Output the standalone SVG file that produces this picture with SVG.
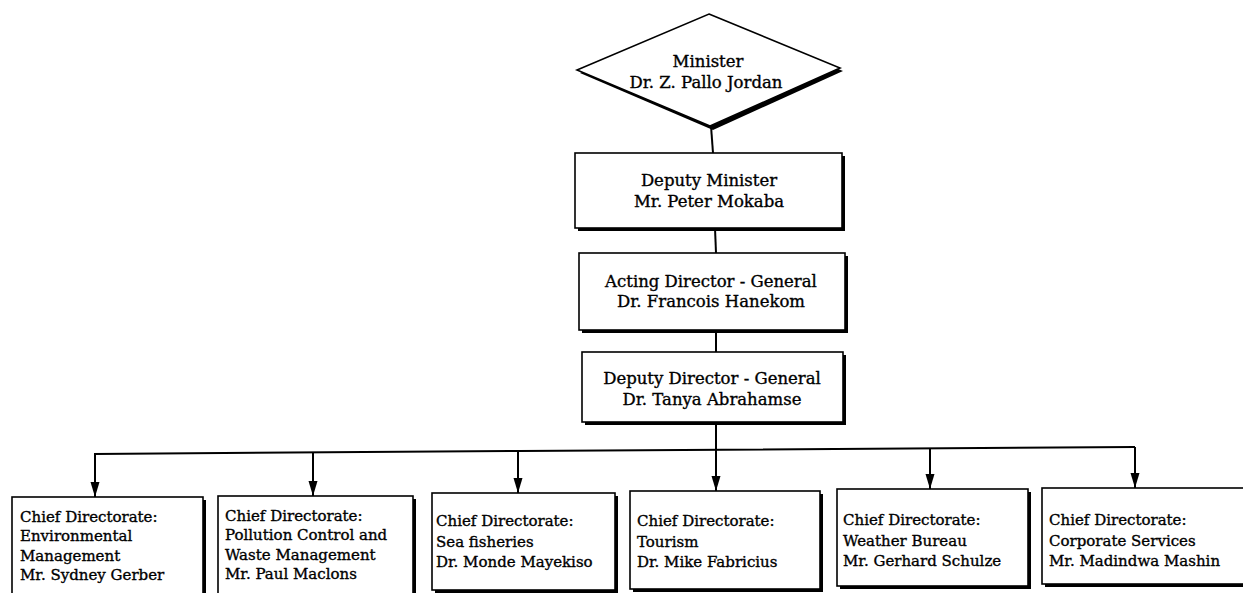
<svg xmlns="http://www.w3.org/2000/svg" width="1243" height="593" viewBox="0 0 1243 593">
<style>
  .box { fill: #fff; stroke: #000; stroke-width: 1.6; }
  .shadow { fill: #000; }
  .t { font-family: "DejaVu Serif", "Liberation Serif", serif; font-size: 15px; fill: #000; stroke: #000; stroke-width: 0.35; }
  .c { text-anchor: middle; font-size: 16.5px; }
  .conn { fill: none; stroke: #000; stroke-width: 2; }
</style>
<defs>
  <marker id="arr" markerUnits="userSpaceOnUse" markerWidth="16" markerHeight="10" refX="15" refY="5" orient="auto" viewBox="0 0 16 10">
    <path d="M0,0.5 L15,5 L0,9.5 Z" fill="#000"/>
  </marker>
</defs>
<rect width="1243" height="593" fill="#fff"/>

<g id="connectors">
  <line class="conn" x1="711" y1="126" x2="713" y2="153"/>
  <line class="conn" x1="715" y1="228" x2="716" y2="253"/>
  <line class="conn" x1="716" y1="330" x2="716" y2="352"/>
  <line class="conn" x1="716" y1="422" x2="716" y2="452"/>
  <polyline class="conn" points="94,454 520,451 1135,447"/>
  <line class="conn" x1="95" y1="454" x2="95" y2="497" marker-end="url(#arr)"/>
  <line class="conn" x1="313" y1="453" x2="313" y2="496" marker-end="url(#arr)"/>
  <line class="conn" x1="518" y1="451" x2="518" y2="493" marker-end="url(#arr)"/>
  <line class="conn" x1="716" y1="450" x2="716" y2="491" marker-end="url(#arr)"/>
  <line class="conn" x1="930" y1="448" x2="930" y2="489" marker-end="url(#arr)"/>
  <line class="conn" x1="1135" y1="447" x2="1135" y2="488" marker-end="url(#arr)"/>
</g>

<g id="minister">
  <polygon class="shadow" points="712,17 843,71 713,130 580,73"/>
  <polygon class="box" points="709,14 840,68 710,126 577,70"/>
  <text class="t c" x="708" y="67">Minister</text>
  <text class="t c" x="706" y="88">Dr. Z. Pallo Jordan</text>
</g>

<g id="deputy-minister">
  <rect class="shadow" x="578" y="156" width="267" height="75"/>
  <rect class="box" x="575" y="153" width="267" height="75"/>
  <text class="t c" x="709" y="186">Deputy Minister</text>
  <text class="t c" x="709" y="207">Mr. Peter Mokaba</text>
</g>

<g id="acting-dg">
  <rect class="shadow" x="582" y="256" width="266" height="77"/>
  <rect class="box" x="579" y="253" width="266" height="77"/>
  <text class="t c" x="711" y="287">Acting Director - General</text>
  <text class="t c" x="711" y="307">Dr. Francois Hanekom</text>
</g>

<g id="deputy-dg">
  <rect class="shadow" x="585" y="355" width="261" height="70"/>
  <rect class="box" x="582" y="352" width="261" height="70"/>
  <text class="t c" x="712" y="384">Deputy Director - General</text>
  <text class="t c" x="712" y="405">Dr. Tanya Abrahamse</text>
</g>

<g id="cd-environment">
  <rect class="shadow" x="15" y="500" width="191" height="100"/>
  <rect class="box" x="12" y="497" width="191" height="100"/>
  <text class="t" x="20" y="522">Chief Directorate:</text>
  <text class="t" x="20" y="541">Environmental</text>
  <text class="t" x="20" y="561">Management</text>
  <text class="t" x="20" y="580">Mr. Sydney Gerber</text>
</g>

<g id="cd-pollution">
  <rect class="shadow" x="221" y="499" width="195" height="100"/>
  <rect class="box" x="218" y="496" width="195" height="100"/>
  <text class="t" x="225" y="521">Chief Directorate:</text>
  <text class="t" x="225" y="540">Pollution Control and</text>
  <text class="t" x="225" y="560">Waste Management</text>
  <text class="t" x="225" y="579">Mr. Paul Maclons</text>
</g>

<g id="cd-sea">
  <rect class="shadow" x="435" y="496" width="183" height="97"/>
  <rect class="box" x="432" y="493" width="183" height="97"/>
  <text class="t" x="436" y="526">Chief Directorate:</text>
  <text class="t" x="436" y="547">Sea fisheries</text>
  <text class="t" x="436" y="567">Dr. Monde Mayekiso</text>
</g>

<g id="cd-tourism">
  <rect class="shadow" x="633" y="494" width="190" height="98"/>
  <rect class="box" x="630" y="491" width="190" height="98"/>
  <text class="t" x="637" y="526">Chief Directorate:</text>
  <text class="t" x="637" y="547">Tourism</text>
  <text class="t" x="637" y="567">Dr. Mike Fabricius</text>
</g>

<g id="cd-weather">
  <rect class="shadow" x="840" y="492" width="191" height="97"/>
  <rect class="box" x="837" y="489" width="191" height="97"/>
  <text class="t" x="843" y="525">Chief Directorate:</text>
  <text class="t" x="843" y="546">Weather Bureau</text>
  <text class="t" x="843" y="566">Mr. Gerhard Schulze</text>
</g>

<g id="cd-corporate">
  <rect class="shadow" x="1045" y="491" width="210" height="96"/>
  <rect class="box" x="1042" y="488" width="210" height="96"/>
  <text class="t" x="1049" y="525">Chief Directorate:</text>
  <text class="t" x="1049" y="546">Corporate Services</text>
  <text class="t" x="1049" y="566">Mr. Madindwa Mashin</text>
</g>
</svg>
